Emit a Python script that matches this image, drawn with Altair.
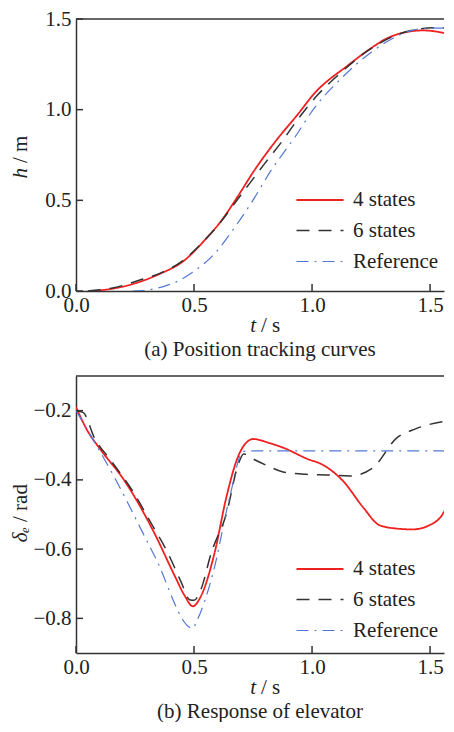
import altair as alt
import pandas as pd

FONT = "Liberation Serif"
FS = 21
AXC = "#333333"
TXT = "#222222"

SERIES = ["4 states", "6 states", "Reference"]
COLORS = ["#f02020", "#333333", "#5478d4"]
DASHES = [[1, 0], [13, 9], [12, 6, 2, 6]]
WIDTHS = [1.8, 1.2, 1.2]
XMAX = 1.559
X_TICKS = [0.0, 0.5, 1.0, 1.5]
PLOT_W = 368

# ---- (a) position tracking ----
a_t4 = [0.07, 0.15, 0.234, 0.347, 0.46, 0.545, 0.616, 0.686, 0.757, 0.842, 0.94, 1.01, 1.153, 1.24, 1.32, 1.40, 1.47, 1.53, 1.593]
a_h4 = [0.0, 0.012, 0.036, 0.09, 0.17, 0.28, 0.388, 0.523, 0.668, 0.82, 0.975, 1.09, 1.245, 1.33, 1.395, 1.428, 1.437, 1.43, 1.41]
a_t6 = [0.05, 0.15, 0.277, 0.36, 0.46, 0.53, 0.60, 0.70, 0.80, 0.87, 0.94, 1.025, 1.11, 1.237, 1.35, 1.45, 1.52, 1.593]
a_h6 = [0.0, 0.015, 0.063, 0.10, 0.175, 0.26, 0.36, 0.532, 0.704, 0.82, 0.947, 1.083, 1.19, 1.326, 1.408, 1.444, 1.452, 1.45]
a_tr = [0.24, 0.30, 0.376, 0.44, 0.489, 0.588, 0.658, 0.743, 0.828, 0.927, 1.011, 1.124, 1.251, 1.364, 1.43, 1.49, 1.55, 1.593]
a_hr = [0.0, 0.005, 0.027, 0.06, 0.099, 0.207, 0.325, 0.487, 0.668, 0.848, 1.011, 1.173, 1.317, 1.408, 1.44, 1.449, 1.45, 1.445]
A_YTICKS = [0.0, 0.5, 1.0, 1.5]

# ---- (b) elevator response ----
b_t4 = [0.0, 0.051, 0.1, 0.206, 0.333, 0.418, 0.46, 0.495, 0.527, 0.587, 0.637, 0.687, 0.722, 0.75, 0.821, 0.877, 0.99, 1.032, 1.131, 1.216, 1.286, 1.35, 1.427, 1.497, 1.554, 1.593]
b_d4 = [-0.19, -0.261, -0.309, -0.403, -0.555, -0.677, -0.734, -0.765, -0.739, -0.611, -0.45, -0.332, -0.292, -0.282, -0.294, -0.307, -0.342, -0.352, -0.403, -0.479, -0.531, -0.54, -0.543, -0.531, -0.498, -0.44]
b_t6 = [0.0, 0.03, 0.079, 0.15, 0.248, 0.319, 0.389, 0.446, 0.481, 0.5, 0.53, 0.573, 0.637, 0.687, 0.71, 0.757, 0.814, 0.877, 0.976, 1.074, 1.159, 1.258, 1.357, 1.441, 1.593]
b_d6 = [-0.2, -0.205, -0.28, -0.346, -0.441, -0.526, -0.611, -0.696, -0.746, -0.748, -0.715, -0.611, -0.498, -0.356, -0.325, -0.342, -0.36, -0.377, -0.384, -0.386, -0.389, -0.365, -0.28, -0.252, -0.228]
b_tr = [0.0, 0.164, 0.333, 0.495, 0.51, 0.581, 0.651, 0.708, 0.75, 1.0, 1.593]
b_dr = [-0.2, -0.394, -0.62, -0.829, -0.81, -0.668, -0.45, -0.318, -0.316, -0.316, -0.316]
B_YTICKS = [-0.2, -0.4, -0.6, -0.8]

X_TITLE = ("t", "/ s")


def frame(ts, vs, name):
    return pd.DataFrame({"t": ts, "v": vs, "series": name, "k": range(len(ts))})


def label(text, italic, x, y, align, angle=0):
    return alt.Chart(pd.DataFrame({"s": [text]})).mark_text(
        font=FONT, fontSize=FS, color=TXT, fontStyle="italic" if italic else "normal",
        align=align, baseline="alphabetic", angle=angle,
    ).encode(text="s:N", x=alt.value(x), y=alt.value(y))


def panel(parts, ydom, yticks, ytitle, caption, height, legend_y, title_x, title_a):
    df = pd.concat([frame(*p) for p in parts], ignore_index=True)
    xs = alt.Scale(domain=[0, XMAX], nice=False, zero=False)
    ys = alt.Scale(domain=ydom, nice=False, zero=False)
    legend = alt.Legend(
        title=None, orient="none", legendX=231, legendY=legend_y,
        symbolType="M -2 0 L 2 0", symbolSize=552, labelFont=FONT, labelFontSize=FS,
        labelColor=TXT, labelOffset=20, rowPadding=8, padding=0,
    )
    lines = alt.Chart(df).mark_line(interpolate="monotone", clip=True).encode(
        x=alt.X("t:Q", scale=xs, axis=alt.Axis(
            values=X_TICKS, format=".1f", title=None, tickSize=0, labelPadding=3,
            grid=False, labelFlush=False)),
        y=alt.Y("v:Q", scale=ys, axis=alt.Axis(
            values=yticks, format=".1f", title=None, tickSize=0, labelPadding=5,
            grid=False)),
        color=alt.Color("series:N", scale=alt.Scale(domain=SERIES, range=COLORS), legend=legend),
        strokeDash=alt.StrokeDash("series:N", scale=alt.Scale(domain=SERIES, range=DASHES), legend=legend),
        strokeWidth=alt.StrokeWidth("series:N", scale=alt.Scale(domain=SERIES, range=WIDTHS), legend=legend),
        order="k:Q",
    )
    xt = alt.Chart(pd.DataFrame({"t": X_TICKS})).mark_rule(color=AXC, strokeWidth=1.5).encode(
        x=alt.X("t:Q", scale=xs), y=alt.value(height), y2=alt.value(height - 7))
    yt = alt.Chart(pd.DataFrame({"v": yticks})).mark_rule(color=AXC, strokeWidth=1.5).encode(
        y=alt.Y("v:Q", scale=ys), x=alt.value(0), x2=alt.value(7))
    border = alt.Chart(pd.DataFrame({"v": [ydom[1]]})).mark_rule(color=AXC, strokeWidth=1.5).encode(
        y=alt.Y("v:Q", scale=ys), x=alt.value(0), x2=alt.value(PLOT_W))
    anchor = height / 2 + title_a
    texts = [
        label(X_TITLE[0], True, 180, height + 41, "right"),
        label(X_TITLE[1], False, 185, height + 41, "left"),
        label(ytitle[0], True, title_x, anchor, "right", 270),
        label(ytitle[1], False, title_x, anchor - 5, "left", 270),
    ]
    return alt.layer(lines, xt, yt, border, *texts).properties(
        width=PLOT_W, height=height,
        title=alt.TitleParams(caption, orient="bottom", font=FONT, fontSize=FS,
                              fontWeight="normal", color=TXT, offset=3),
    )


top = panel([(a_t4, a_h4, SERIES[0]), (a_t6, a_h6, SERIES[1]), (a_tr, a_hr, SERIES[2])],
            [0, 1.5], A_YTICKS, ("h", "/ m"), "(a)  Position tracking curves", 272, 168, -49, 13)
bottom = panel([(b_t4, b_d4, SERIES[0]), (b_t6, b_d6, SERIES[1]), (b_tr, b_dr, SERIES[2])],
               [-0.9, -0.1], B_YTICKS, ("δₑ", "/ rad"), "(b)  Response of elevator", 277, 180, -49, 12.5)

chart = alt.vconcat(top, bottom, spacing=15).resolve_scale(
    color="independent", strokeDash="independent", strokeWidth="independent"
).resolve_legend(
    color="independent", strokeDash="independent", strokeWidth="independent"
).properties(
    padding={"left": 2, "top": 0, "right": 0, "bottom": 0}
).configure_view(stroke=None).configure_axis(
    labelFont=FONT, labelFontSize=FS, labelColor=TXT,
    domainColor=AXC, domainWidth=1.5,
)

chart.save("out.html", embed_options={"renderer": "svg", "actions": False})
